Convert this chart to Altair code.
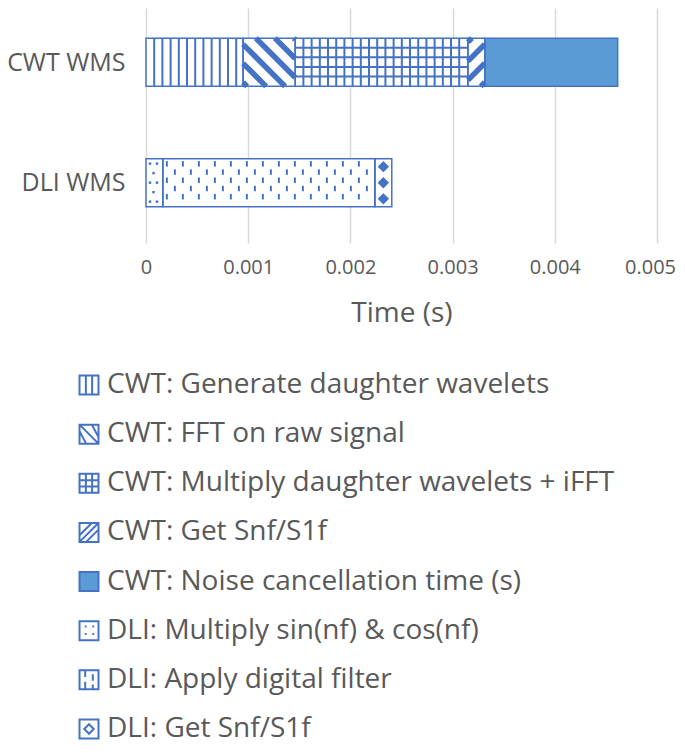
import altair as alt
import numpy as np
import pandas as pd

# ---------------- data ----------------
categories = ["CWT WMS", "DLI WMS"]
cwt_parts = ["CWT: Generate daughter wavelets", "CWT: FFT on raw signal",
             "CWT: Multiply daughter wavelets + iFFT", "CWT: Get Snf/S1f",
             "CWT: Noise cancellation time (s)"]
cwt_times = [0.00095, 0.00051, 0.00169, 0.000165, 0.0013]
cwt_patterns = ["vert", "down", "grid", "up", "solid"]
dli_parts = ["DLI: Multiply sin(nf) & cos(nf)", "DLI: Apply digital filter", "DLI: Get Snf/S1f"]
dli_times = [0.000165, 0.002075, 0.000165]
dli_patterns = ["dots", "dash", "diamond"]
x_ticks = [0, 0.001, 0.002, 0.003, 0.004, 0.005]
legend_labels = cwt_parts + dli_parts
legend_shapes = [
    "M-1,-1H1V1H-1Z M-0.33,-1V1 M0.33,-1V1",
    "M-1,-1H1V1H-1Z M-1,-1L1,1 M-1,-0.3L-0.3,1 M0.3,-1L1,0.3",
    "M-1,-1H1V1H-1Z M-0.33,-1V1 M0.33,-1V1 M-1,-0.33H1 M-1,0.33H1",
    "M-1,-1H1V1H-1Z M-1,1L1,-1 M-1,0.3L0.3,-1 M-0.3,1L1,-0.3",
    "square",
    "M-1,-1H1V1H-1Z M-0.45,-0.45h0.2 M0.35,-0.45h0.2 M-0.45,0.35h0.2 M0.35,0.35h0.2",
    "M-1,-1H1V1H-1Z M-0.4,-1V-0.3 M0.4,-0.6V0.1 M-0.4,0.2V0.9 M0.4,0.5V1",
    "M-1,-1H1V1H-1Z M0,-0.5L0.5,0L0,0.5L-0.5,0Z",
]
legend_fills = ["transparent"] * 4 + ["#5B9BD5"] + ["transparent"] * 3

BLUE = "#4472C4"
SOLID = "#5B9BD5"
GRAY = "#595959"
FONT = "Open Sans"

W, H = 511, 235
X_MAX = 0.005
Y_LO, Y_HI = 0.05, 2.0
PX = X_MAX / W
PY = (Y_HI - Y_LO) / H
HALF = 0.2

# ---------------- segments ----------------
segs = []
for cat, center, parts, times, pats in [
    (categories[0], 0.5, cwt_parts, cwt_times, cwt_patterns),
    (categories[1], 1.5, dli_parts, dli_times, dli_patterns),
]:
    start = 0.0
    for p, t, pat in zip(parts, times, pats):
        segs.append(dict(cat=cat, part=p, x=start, x2=start + t,
                         y=center - HALF, y2=center + HALF, pat=pat,
                         fill=SOLID if pat == "solid" else "white"))
        start += t
seg_df = pd.DataFrame(segs)

rules, dots, diamonds = [], [], []


def add_rule(x, x2, y, y2, w):
    rules.append(dict(x=x, x2=x2, y=y, y2=y2, w=w))


for s in segs:
    x0, x1, y0, y1 = s["x"], s["x2"], s["y"], s["y2"]
    Wp = (x1 - x0) / PX
    Hp = (y1 - y0) / PY
    pat = s["pat"]
    if pat in ("vert", "grid"):
        X = 8.2
        while X < Wp - 1:
            add_rule(x0 + X * PX, x0 + X * PX, y0, y1, 2)
            X += 8.2
    if pat == "grid":
        Y = 9.6
        while Y < Hp - 1:
            add_rule(x0, x1, y0 + Y * PY, y0 + Y * PY, 2)
            Y += 9.6
    if pat in ("down", "up"):
        for c in np.arange(-Hp + 4, Wp, 19.0):
            tmin = max(0.0, -c)
            tmax = min(Hp, Wp - c)
            if tmax - tmin < 1:
                continue
            if pat == "down":
                X1, Y1, X2, Y2 = c + tmin, tmin, c + tmax, tmax
            else:
                X1, Y1, X2, Y2 = c + tmin, Hp - tmin, c + tmax, Hp - tmax
            add_rule(x0 + X1 * PX, x0 + X2 * PX, y0 + Y1 * PY, y0 + Y2 * PY, 5.5)
    if pat == "dash":
        for i in range(6):
            ya = 2.5 + i * 8.2
            yb = ya + 5.5
            if yb > Hp - 1:
                break
            X = 4 if i % 2 == 0 else 12
            while X < Wp - 1:
                add_rule(x0 + X * PX, x0 + X * PX, y0 + ya * PY, y0 + yb * PY, 2)
                X += 16
    if pat == "dots":
        for i in range(5):
            yy = y0 + (5 + i * 9.5) * PY
            for X in ([4, 11] if i % 2 == 0 else [7.5]):
                dots.append(dict(x=x0 + X * PX, y=yy))
    if pat == "diamond":
        for Y in (8, Hp / 2, Hp - 8):
            diamonds.append(dict(x=(x0 + x1) / 2, y=y0 + Y * PY))

rule_df = pd.DataFrame(rules)
dot_df = pd.DataFrame(dots)
dia_df = pd.DataFrame(diamonds)

# ---------------- encodings ----------------
xscale = alt.Scale(domain=[0, X_MAX], nice=False, zero=False)
yscale = alt.Scale(domain=[Y_LO, Y_HI], reverse=True, nice=False, zero=False)
last_tick = x_ticks[-1]
xaxis = alt.Axis(values=x_ticks, format="~g", title="Time (s)", grid=True,
                 gridColor="#D9D9D9", gridWidth=1.5, ticks=False, domain=False,
                 labelFlush=False, labelOverlap=False, labelBound=False,
                 labelOffset={"condition": {"test": f"datum.value >= {last_tick}", "value": -7},
                              "value": 0},
                 labelFontSize=20, labelColor=GRAY, labelFont=FONT, labelPadding=14,
                 titleFontSize=28, titleColor=GRAY, titleFont=FONT,
                 titleFontWeight="normal", titlePadding=22)
label_expr = f"datum.value < 1 ? '{categories[0]}' : '{categories[1]}'"
yaxis = alt.Axis(values=[0.5, 1.5], labelExpr=label_expr, title=None, grid=False,
                 ticks=False, domain=False, labelFontSize=25, labelColor=GRAY,
                 labelFont=FONT, labelPadding=21)


def X(f="x"):
    return alt.X(f"{f}:Q", scale=xscale, axis=xaxis)


def Y(f="y"):
    return alt.Y(f"{f}:Q", scale=yscale, axis=yaxis)


bars_fill = alt.Chart(seg_df).mark_rect(strokeWidth=0).encode(
    x=X(), x2="x2", y=Y(), y2="y2", fill=alt.Fill("fill:N", scale=None))
hatch = alt.Chart(rule_df).mark_rule(color=BLUE, strokeCap="butt").encode(
    x=X(), x2="x2", y=Y(), y2="y2", strokeWidth=alt.StrokeWidth("w:Q", scale=None))
dots_l = alt.Chart(dot_df).mark_square(color=BLUE, size=6, opacity=1).encode(x=X(), y=Y())
dia_l = alt.Chart(dia_df).mark_point(shape="diamond", filled=True, color=BLUE, size=130,
                                     opacity=1).encode(x=X(), y=Y())
bars_out = alt.Chart(seg_df).mark_rect(fillOpacity=0, stroke=BLUE, strokeWidth=1.5).encode(
    x=X(), x2="x2", y=Y(), y2="y2")

main = alt.layer(bars_fill, hatch, dots_l, dia_l, bars_out)

legend_df = pd.DataFrame(dict(label=legend_labels, shape=legend_shapes, fill=legend_fills))
lscale = alt.Scale(type="point", domain=legend_labels, range=[377, 721], padding=0)
leg_sym = alt.Chart(legend_df).mark_point(filled=True, opacity=1, strokeWidth=2,
                                          size=360).encode(
    x=alt.value(-57),
    y=alt.Y("label:N", scale=lscale, axis=None),
    shape=alt.Shape("shape:N", scale=None),
    fill=alt.Fill("fill:N", scale=None),
    stroke=alt.value(BLUE),
)
leg_txt = alt.Chart(legend_df).mark_text(align="left", baseline="middle", fontSize=28,
                                         font=FONT, color=GRAY).encode(
    x=alt.value(-39),
    y=alt.Y("label:N", scale=lscale, axis=None),
    text="label:N",
)
legend = alt.layer(leg_sym, leg_txt)

chart = alt.layer(main, legend).resolve_scale(y="independent").properties(
    width=W, height=H, background="white",
    autosize=alt.AutoSizeParams(type="none"),
    padding={"left": 138, "top": 0, "right": 20, "bottom": 737 - H},
).configure_view(stroke=None)

chart.save("out.html", embed_options={"renderer": "svg", "actions": False})
